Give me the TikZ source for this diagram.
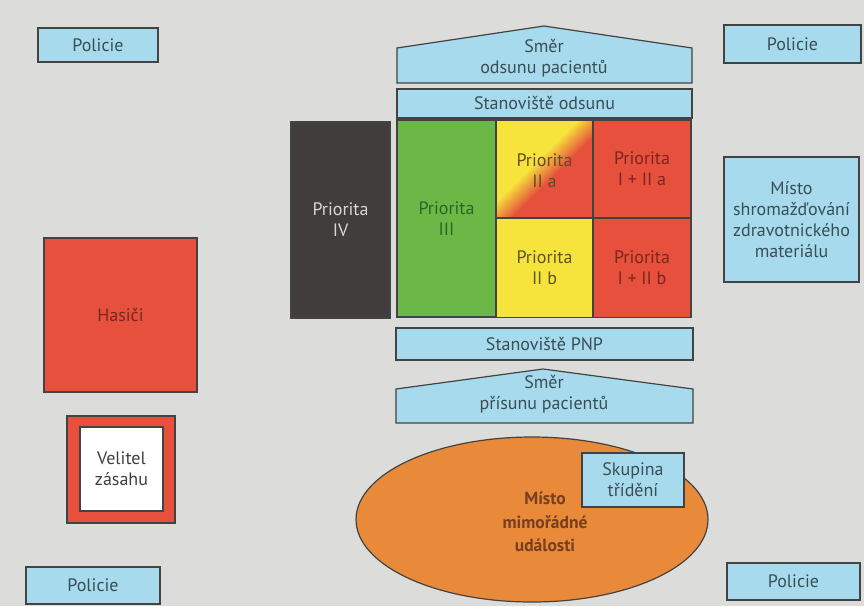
\documentclass[tikz,border=0pt]{standalone}
\usepackage{fontspec}
\setmainfont{PT Sans}
\usetikzlibrary{shapes.geometric}

\definecolor{bg}{RGB}{220,220,218}
\definecolor{sky}{RGB}{166,218,236}
\definecolor{edge}{RGB}{66,68,68}
\definecolor{skytext}{RGB}{58,78,86}
\definecolor{firered}{RGB}{230,80,60}
\definecolor{redtext}{RGB}{120,40,32}
\definecolor{grassgreen}{RGB}{108,184,70}
\definecolor{greentext}{RGB}{44,100,40}
\definecolor{lemon}{RGB}{246,228,60}
\definecolor{olivetext}{RGB}{92,86,36}
\definecolor{charcoal}{RGB}{64,61,60}
\definecolor{paletext}{RGB}{215,215,212}
\definecolor{orangefill}{RGB}{233,137,58}
\definecolor{browntext}{RGB}{120,62,30}

\pgfdeclarehorizontalshading{yellowred}{100bp}{%
  color(0bp)=(lemon); color(44bp)=(lemon); color(56bp)=(firered); color(100bp)=(firered)}

\tikzset{
  lbl/.style={font=\fontsize{18}{21}\selectfont, align=center, inner sep=0pt},
  area/.style={draw=edge, line width=1.2pt, inner sep=0pt, outer sep=0pt, lbl},
  bluebox/.style={area, fill=sky, text=skytext},
  redbox/.style={area, fill=firered, text=redtext},
  shapeline/.style={draw=edge, line width=1.2pt, line join=miter},
}

\begin{document}
\begin{tikzpicture}[x=1pt,y=-1pt]
\fill[bg] (0,0) rectangle (864,606);
\useasboundingbox (0,0) rectangle (864,606);

% police posts in the corners
\node[bluebox, minimum width=120, minimum height=34] (polTL) at (98,45) {Policie};
\node[bluebox, minimum width=137, minimum height=38] (polTR) at (792.5,44) {Policie};
\node[bluebox, minimum width=134, minimum height=37] (polBL) at (93,585.5) {Policie};
\node[bluebox, minimum width=133, minimum height=37] (polBR) at (793.5,581.5) {Policie};

% medical supply collection point
\node[bluebox, minimum width=135, minimum height=125] (supply) at (791.5,219.5)
  {Místo\\shromažďování\\zdravotnického\\materiálu};

% fire brigade
\node[redbox, minimum width=153, minimum height=154] (fire) at (120.5,315) {Hasiči};

% incident commander (red frame with white inner box)
\node[area, fill=firered, minimum width=108, minimum height=107] (cmdframe) at (121,469.5) {};
\node[area, fill=white, text=black!75, minimum width=83, minimum height=84] (cmd) at (121.5,469) {Velitel\\zásahu};

% evacuation direction (roof-shaped)
\draw[shapeline, fill=sky] (397,48) -- (544,26) -- (692,48) -- (692,83) -- (397,83) -- cycle;
\node[lbl, text=skytext] (evacdir) at (544,58) {Směr\\odsunu pacientů};

% evacuation station
\node[bluebox, minimum width=295, minimum height=29] (evac) at (544.5,103.5) {Stanoviště odsunu};

% priority IV
\node[area, fill=charcoal, text=paletext, minimum width=99, minimum height=196] (p4) at (340.5,220) {Priorita\\IV};

% priority grid
\node[area, fill=grassgreen, text=greentext, minimum width=99, minimum height=197] (p3) at (446.5,218.5) {Priorita\\III};
\shade[shading=yellowred, shading angle=-45] (496,120) rectangle (593,218);
\draw[shapeline] (496,120) rectangle (593,218);
\node[lbl, text=olivetext!80!redtext] (p2a) at (544.5,171) {Priorita\\II a};
\node[redbox, minimum width=98, minimum height=98] (p12a) at (642,169) {Priorita\\I + II a};
\node[area, fill=lemon, text=olivetext, minimum width=97, minimum height=99] (p2b) at (544.5,268) {Priorita\\II b};
\node[redbox, minimum width=98, minimum height=99] (p12b) at (642,268) {Priorita\\I + II b};

% first aid station
\node[bluebox, minimum width=297, minimum height=32] (pnp) at (544.5,344) {Stanoviště PNP};

% incoming direction (roof-shaped)
\draw[shapeline, fill=sky] (396,389) -- (543,369) -- (693,389) -- (693,423) -- (396,423) -- cycle;
\node[lbl, text=skytext] (indir) at (544,394) {Směr\\přísunu pacientů};

% incident site
\node[ellipse, draw=edge, line width=1.2pt, fill=orangefill, minimum width=352, minimum height=165, inner sep=0pt] (site) at (532,519.5) {};
\node[lbl, text=browntext, font=\bfseries\fontsize{17.5}{23.5}\selectfont] (sitetext) at (545,522) {Místo\\mimořádné\\události};

% triage group
\node[bluebox, minimum width=102, minimum height=54] (triage) at (633,480) {Skupina\\třídění};
\end{tikzpicture}
\end{document}
